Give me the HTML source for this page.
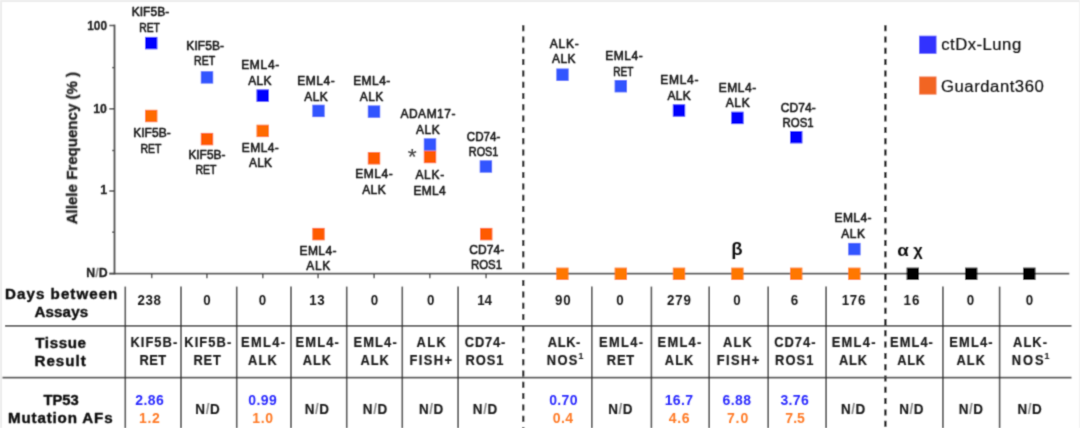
<!DOCTYPE html><html><head><meta charset="utf-8"><style>html,body{margin:0;padding:0;background:#fff;overflow:hidden}#l,#t{position:absolute;left:0;top:0}svg{display:block}</style></head><body><div id="l"><svg width="1080" height="428" viewBox="0 0 1080 428"><defs><filter id="lb" x="-0.05" y="-0.05" width="1.1" height="1.1"><feConvolveMatrix order="3" kernelMatrix="0.02768 0.11101 0.02768 0.11101 0.44521 0.11101 0.02768 0.11101 0.02768" divisor="1" edgeMode="none"/></filter></defs><g filter="url(#lb)"><rect x="0" y="0" width="1080" height="428" fill="#fff"/><line x1="114.5" y1="24.6" x2="114.5" y2="274.5" stroke="#4a4a4a" stroke-width="1.9"/>
<line x1="109.3" y1="273.6" x2="1069.3" y2="273.6" stroke="#4a4a4a" stroke-width="1.8"/>
<line x1="109.3" y1="25.5" x2="114.5" y2="25.5" stroke="#4a4a4a" stroke-width="1.6"/>
<line x1="109.3" y1="108.8" x2="114.5" y2="108.8" stroke="#4a4a4a" stroke-width="1.6"/>
<line x1="109.3" y1="191" x2="114.5" y2="191" stroke="#4a4a4a" stroke-width="1.6"/>
<line x1="109.3" y1="273.6" x2="114.5" y2="273.6" stroke="#4a4a4a" stroke-width="1.6"/>
<line x1="112" y1="67.6" x2="114.5" y2="67.6" stroke="#4a4a4a" stroke-width="1.4"/>
<line x1="112" y1="150.5" x2="114.5" y2="150.5" stroke="#4a4a4a" stroke-width="1.4"/>
<line x1="112" y1="232.2" x2="114.5" y2="232.2" stroke="#4a4a4a" stroke-width="1.4"/>
<line x1="151.7" y1="273.6" x2="151.7" y2="278.2" stroke="#4a4a4a" stroke-width="1.5"/>
<line x1="206.9" y1="273.6" x2="206.9" y2="278.2" stroke="#4a4a4a" stroke-width="1.5"/>
<line x1="262.8" y1="273.6" x2="262.8" y2="278.2" stroke="#4a4a4a" stroke-width="1.5"/>
<line x1="318.1" y1="273.6" x2="318.1" y2="278.2" stroke="#4a4a4a" stroke-width="1.5"/>
<line x1="374.1" y1="273.6" x2="374.1" y2="278.2" stroke="#4a4a4a" stroke-width="1.5"/>
<line x1="429.8" y1="273.6" x2="429.8" y2="278.2" stroke="#4a4a4a" stroke-width="1.5"/>
<line x1="486.1" y1="273.6" x2="486.1" y2="278.2" stroke="#4a4a4a" stroke-width="1.5"/>
<line x1="523.2" y1="25.2" x2="523.2" y2="272" stroke="#000" stroke-width="2.3" stroke-dasharray="6.0 5.3"/>
<line x1="523.2" y1="280.1" x2="523.2" y2="428" stroke="#000" stroke-width="2.3" stroke-dasharray="6.0 5.3"/>
<line x1="885.4" y1="25.2" x2="885.4" y2="428" stroke="#000" stroke-width="2.3" stroke-dasharray="6.0 5.3"/>
<line x1="5" y1="325.8" x2="1071.5" y2="325.8" stroke="#4a4a4a" stroke-width="1.8"/>
<line x1="2.5" y1="377.7" x2="1071.5" y2="377.7" stroke="#4a4a4a" stroke-width="1.8"/>
<line x1="125.3" y1="286.6" x2="125.3" y2="428" stroke="#3a3a3a" stroke-width="1.6"/>
<line x1="181" y1="286.6" x2="181" y2="428" stroke="#3a3a3a" stroke-width="1.6"/>
<line x1="236.7" y1="286.6" x2="236.7" y2="428" stroke="#3a3a3a" stroke-width="1.6"/>
<line x1="291" y1="286.6" x2="291" y2="428" stroke="#3a3a3a" stroke-width="1.6"/>
<line x1="346.7" y1="286.6" x2="346.7" y2="428" stroke="#3a3a3a" stroke-width="1.6"/>
<line x1="402.3" y1="286.6" x2="402.3" y2="428" stroke="#3a3a3a" stroke-width="1.6"/>
<line x1="458.1" y1="286.6" x2="458.1" y2="428" stroke="#3a3a3a" stroke-width="1.6"/>
<line x1="591.8" y1="286.6" x2="591.8" y2="428" stroke="#3a3a3a" stroke-width="1.6"/>
<line x1="651.4" y1="286.6" x2="651.4" y2="428" stroke="#3a3a3a" stroke-width="1.6"/>
<line x1="709.2" y1="286.6" x2="709.2" y2="428" stroke="#3a3a3a" stroke-width="1.6"/>
<line x1="768.2" y1="286.6" x2="768.2" y2="428" stroke="#3a3a3a" stroke-width="1.6"/>
<line x1="826.1" y1="286.6" x2="826.1" y2="428" stroke="#3a3a3a" stroke-width="1.6"/>
<line x1="942.9" y1="286.6" x2="942.9" y2="428" stroke="#3a3a3a" stroke-width="1.6"/>
<line x1="999.6" y1="286.6" x2="999.6" y2="428" stroke="#3a3a3a" stroke-width="1.6"/>
<rect x="0" y="0" width="1080" height="2" fill="#ececec"/>
<rect x="0" y="0" width="2" height="428" fill="#ececec"/>
<rect x="1079" y="0" width="1" height="428" fill="#f0f0f0"/><rect x="145.00" y="36.90" width="12.4" height="12.4" fill="#0000ff"/>
<rect x="145.00" y="109.80" width="12.4" height="12.4" fill="#ff6a00"/>
<rect x="200.80" y="71.20" width="12.4" height="12.4" fill="#3355ff"/>
<rect x="200.80" y="132.90" width="12.4" height="12.4" fill="#ff5a00"/>
<rect x="256.50" y="89.40" width="12.4" height="12.4" fill="#0000ff"/>
<rect x="256.50" y="124.70" width="12.4" height="12.4" fill="#ff6a00"/>
<rect x="312.30" y="104.70" width="12.4" height="12.4" fill="#3355ff"/>
<rect x="312.30" y="227.90" width="12.4" height="12.4" fill="#ff5a00"/>
<rect x="367.80" y="105.40" width="12.4" height="12.4" fill="#3355ff"/>
<rect x="367.80" y="152.10" width="12.4" height="12.4" fill="#ff5a00"/>
<rect x="423.80" y="138.30" width="12.4" height="12.4" fill="#3355ff"/>
<rect x="423.80" y="150.80" width="12.4" height="12.4" fill="#ff5a00"/>
<rect x="479.70" y="160.30" width="12.4" height="12.4" fill="#3355ff"/>
<rect x="480.00" y="227.90" width="12.4" height="12.4" fill="#ff5a00"/>
<rect x="556.30" y="68.50" width="12.4" height="12.4" fill="#3355ff"/>
<rect x="556.20" y="267.60" width="12.4" height="12.4" fill="#ff7700"/>
<rect x="614.60" y="80.00" width="12.4" height="12.4" fill="#3355ff"/>
<rect x="614.60" y="267.60" width="12.4" height="12.4" fill="#ff7700"/>
<rect x="672.80" y="104.30" width="12.4" height="12.4" fill="#0000ff"/>
<rect x="672.80" y="267.60" width="12.4" height="12.4" fill="#ff7700"/>
<rect x="731.20" y="111.70" width="12.4" height="12.4" fill="#0000ff"/>
<rect x="731.20" y="267.60" width="12.4" height="12.4" fill="#ff7700"/>
<rect x="790.00" y="131.00" width="12.4" height="12.4" fill="#0000ff"/>
<rect x="790.00" y="267.60" width="12.4" height="12.4" fill="#ff7700"/>
<rect x="848.20" y="242.90" width="12.4" height="12.4" fill="#3355ff"/>
<rect x="848.10" y="267.60" width="12.4" height="12.4" fill="#ff7700"/>
<rect x="906.60" y="267.60" width="12.4" height="12.4" fill="#000"/>
<rect x="965.00" y="267.60" width="12.4" height="12.4" fill="#000"/>
<rect x="1023.10" y="267.60" width="12.4" height="12.4" fill="#000"/>
<rect x="919.1" y="35.7" width="17.4" height="18.1" fill="#3333ff"/>
<rect x="919.1" y="76.5" width="17.4" height="18.1" fill="#f26522"/></g></svg></div><div id="t"><svg width="1080" height="428" viewBox="0 0 1080 428"><defs><filter id="tb" x="-0.05" y="-0.05" width="1.1" height="1.1"><feConvolveMatrix order="3" kernelMatrix="0.02768 0.11101 0.02768 0.11101 0.44521 0.11101 0.02768 0.11101 0.02768" divisor="1" edgeMode="none"/></filter></defs><g filter="url(#tb)"><text transform="translate(131.650,16.050) scale(1.0,1)" style="font-family:'Liberation Sans',sans-serif" font-size="12" font-weight="normal" fill="#151515" textLength="37.600" lengthAdjust="spacing" stroke="#151515" stroke-width="0.55" stroke-linejoin="round">KIF5B-</text>
<text transform="translate(139.200,31.650) scale(0.862619510299262,1)" style="font-family:'Liberation Sans',sans-serif" font-size="12" font-weight="normal" fill="#151515" stroke="#151515" stroke-width="0.55" stroke-linejoin="round">RET</text>
<text transform="translate(133.150,137.350) scale(1.0,1)" style="font-family:'Liberation Sans',sans-serif" font-size="12" font-weight="normal" fill="#151515" textLength="37.550" lengthAdjust="spacing" stroke="#151515" stroke-width="0.55" stroke-linejoin="round">KIF5B-</text>
<text transform="translate(140.500,152.950) scale(0.8776036866359438,1)" style="font-family:'Liberation Sans',sans-serif" font-size="12" font-weight="normal" fill="#151515" stroke="#151515" stroke-width="0.55" stroke-linejoin="round">RET</text>
<text transform="translate(186.350,49.650) scale(1.0,1)" style="font-family:'Liberation Sans',sans-serif" font-size="12" font-weight="normal" fill="#151515" textLength="37.650" lengthAdjust="spacing" stroke="#151515" stroke-width="0.55" stroke-linejoin="round">KIF5B-</text>
<text transform="translate(194.000,65.150) scale(0.8841189120809618,1)" style="font-family:'Liberation Sans',sans-serif" font-size="12" font-weight="normal" fill="#151515" stroke="#151515" stroke-width="0.55" stroke-linejoin="round">RET</text>
<text transform="translate(188.400,158.550) scale(0.9904128483703348,1)" style="font-family:'Liberation Sans',sans-serif" font-size="12" font-weight="normal" fill="#151515" stroke="#151515" stroke-width="0.55" stroke-linejoin="round">KIF5B-</text>
<text transform="translate(195.500,174.350) scale(0.8776036866359438,1)" style="font-family:'Liberation Sans',sans-serif" font-size="12" font-weight="normal" fill="#151515" stroke="#151515" stroke-width="0.55" stroke-linejoin="round">RET</text>
<text transform="translate(241.150,69.350) scale(1.0,1)" style="font-family:'Liberation Sans',sans-serif" font-size="12" font-weight="normal" fill="#151515" textLength="38.200" lengthAdjust="spacing" stroke="#151515" stroke-width="0.55" stroke-linejoin="round">EML4-</text>
<text transform="translate(248.250,85.150) scale(1.0,1)" style="font-family:'Liberation Sans',sans-serif" font-size="12" font-weight="normal" fill="#151515" textLength="23.350" lengthAdjust="spacing" stroke="#151515" stroke-width="0.55" stroke-linejoin="round">ALK</text>
<text transform="translate(241.850,152.150) scale(1.0,1)" style="font-family:'Liberation Sans',sans-serif" font-size="12" font-weight="normal" fill="#151515" textLength="37.000" lengthAdjust="spacing" stroke="#151515" stroke-width="0.55" stroke-linejoin="round">EML4-</text>
<text transform="translate(249.050,167.450) scale(1.0,1)" style="font-family:'Liberation Sans',sans-serif" font-size="12" font-weight="normal" fill="#151515" textLength="23.050" lengthAdjust="spacing" stroke="#151515" stroke-width="0.55" stroke-linejoin="round">ALK</text>
<text transform="translate(297.250,85.350) scale(1.0,1)" style="font-family:'Liberation Sans',sans-serif" font-size="12" font-weight="normal" fill="#151515" textLength="37.550" lengthAdjust="spacing" stroke="#151515" stroke-width="0.55" stroke-linejoin="round">EML4-</text>
<text transform="translate(304.250,100.950) scale(1.0,1)" style="font-family:'Liberation Sans',sans-serif" font-size="12" font-weight="normal" fill="#151515" textLength="23.450" lengthAdjust="spacing" stroke="#151515" stroke-width="0.55" stroke-linejoin="round">ALK</text>
<text transform="translate(299.450,254.750) scale(1.0,1)" style="font-family:'Liberation Sans',sans-serif" font-size="12" font-weight="normal" fill="#151515" textLength="37.100" lengthAdjust="spacing" stroke="#151515" stroke-width="0.55" stroke-linejoin="round">EML4-</text>
<text transform="translate(306.250,270.450) scale(1.0,1)" style="font-family:'Liberation Sans',sans-serif" font-size="12" font-weight="normal" fill="#151515" textLength="24.000" lengthAdjust="spacing" stroke="#151515" stroke-width="0.55" stroke-linejoin="round">ALK</text>
<text transform="translate(353.150,85.350) scale(1.0,1)" style="font-family:'Liberation Sans',sans-serif" font-size="12" font-weight="normal" fill="#151515" textLength="37.100" lengthAdjust="spacing" stroke="#151515" stroke-width="0.55" stroke-linejoin="round">EML4-</text>
<text transform="translate(359.750,100.950) scale(1.0,1)" style="font-family:'Liberation Sans',sans-serif" font-size="12" font-weight="normal" fill="#151515" textLength="23.500" lengthAdjust="spacing" stroke="#151515" stroke-width="0.55" stroke-linejoin="round">ALK</text>
<text transform="translate(355.250,178.050) scale(1.0,1)" style="font-family:'Liberation Sans',sans-serif" font-size="12" font-weight="normal" fill="#151515" textLength="37.600" lengthAdjust="spacing" stroke="#151515" stroke-width="0.55" stroke-linejoin="round">EML4-</text>
<text transform="translate(362.150,193.650) scale(1.0,1)" style="font-family:'Liberation Sans',sans-serif" font-size="12" font-weight="normal" fill="#151515" textLength="23.550" lengthAdjust="spacing" stroke="#151515" stroke-width="0.55" stroke-linejoin="round">ALK</text>
<text transform="translate(400.450,118.450) scale(1.0,1)" style="font-family:'Liberation Sans',sans-serif" font-size="12" font-weight="normal" fill="#151515" textLength="55.050" lengthAdjust="spacing" stroke="#151515" stroke-width="0.55" stroke-linejoin="round">ADAM17-</text>
<text transform="translate(415.950,134.350) scale(1.0,1)" style="font-family:'Liberation Sans',sans-serif" font-size="12" font-weight="normal" fill="#151515" textLength="23.900" lengthAdjust="spacing" stroke="#151515" stroke-width="0.55" stroke-linejoin="round">ALK</text>
<text transform="translate(415.450,179.050) scale(1.0,1)" style="font-family:'Liberation Sans',sans-serif" font-size="12" font-weight="normal" fill="#151515" textLength="28.700" lengthAdjust="spacing" stroke="#151515" stroke-width="0.55" stroke-linejoin="round">ALK-</text>
<text transform="translate(413.550,194.850) scale(1.0,1)" style="font-family:'Liberation Sans',sans-serif" font-size="12" font-weight="normal" fill="#151515" textLength="32.200" lengthAdjust="spacing" stroke="#151515" stroke-width="0.55" stroke-linejoin="round">EML4</text>
<text transform="translate(466.850,141.250) scale(0.9649835627124297,1)" style="font-family:'Liberation Sans',sans-serif" font-size="12" font-weight="normal" fill="#151515" stroke="#151515" stroke-width="0.55" stroke-linejoin="round">CD74-</text>
<text transform="translate(468.800,156.350) scale(0.9055791103035198,1)" style="font-family:'Liberation Sans',sans-serif" font-size="12" font-weight="normal" fill="#151515" stroke="#151515" stroke-width="0.55" stroke-linejoin="round">ROS1</text>
<text transform="translate(469.250,254.050) scale(1.0,1)" style="font-family:'Liberation Sans',sans-serif" font-size="12" font-weight="normal" fill="#151515" textLength="35.000" lengthAdjust="spacing" stroke="#151515" stroke-width="0.55" stroke-linejoin="round">CD74-</text>
<text transform="translate(470.900,269.150) scale(0.9528199219000063,1)" style="font-family:'Liberation Sans',sans-serif" font-size="12" font-weight="normal" fill="#151515" stroke="#151515" stroke-width="0.55" stroke-linejoin="round">ROS1</text>
<text transform="translate(549.750,47.750) scale(1.0,1)" style="font-family:'Liberation Sans',sans-serif" font-size="12" font-weight="normal" fill="#151515" textLength="29.000" lengthAdjust="spacing" stroke="#151515" stroke-width="0.55" stroke-linejoin="round">ALK-</text>
<text transform="translate(552.050,63.350) scale(1.0,1)" style="font-family:'Liberation Sans',sans-serif" font-size="12" font-weight="normal" fill="#151515" textLength="23.350" lengthAdjust="spacing" stroke="#151515" stroke-width="0.55" stroke-linejoin="round">ALK</text>
<text transform="translate(605.250,59.850) scale(1.0,1)" style="font-family:'Liberation Sans',sans-serif" font-size="12" font-weight="normal" fill="#151515" textLength="37.600" lengthAdjust="spacing" stroke="#151515" stroke-width="0.55" stroke-linejoin="round">EML4-</text>
<text transform="translate(613.200,75.550) scale(0.8430967741935446,1)" style="font-family:'Liberation Sans',sans-serif" font-size="12" font-weight="normal" fill="#151515" stroke="#151515" stroke-width="0.55" stroke-linejoin="round">RET</text>
<text transform="translate(660.350,84.250) scale(1.0,1)" style="font-family:'Liberation Sans',sans-serif" font-size="12" font-weight="normal" fill="#151515" textLength="38.050" lengthAdjust="spacing" stroke="#151515" stroke-width="0.55" stroke-linejoin="round">EML4-</text>
<text transform="translate(667.450,99.850) scale(1.0,1)" style="font-family:'Liberation Sans',sans-serif" font-size="12" font-weight="normal" fill="#151515" textLength="23.350" lengthAdjust="spacing" stroke="#151515" stroke-width="0.55" stroke-linejoin="round">ALK</text>
<text transform="translate(718.750,91.650) scale(1.0,1)" style="font-family:'Liberation Sans',sans-serif" font-size="12" font-weight="normal" fill="#151515" textLength="37.500" lengthAdjust="spacing" stroke="#151515" stroke-width="0.55" stroke-linejoin="round">EML4-</text>
<text transform="translate(725.750,107.150) scale(1.0,1)" style="font-family:'Liberation Sans',sans-serif" font-size="12" font-weight="normal" fill="#151515" textLength="23.900" lengthAdjust="spacing" stroke="#151515" stroke-width="0.55" stroke-linejoin="round">ALK</text>
<text transform="translate(780.650,111.750) scale(1.0,1)" style="font-family:'Liberation Sans',sans-serif" font-size="12" font-weight="normal" fill="#151515" textLength="35.100" lengthAdjust="spacing" stroke="#151515" stroke-width="0.55" stroke-linejoin="round">CD74-</text>
<text transform="translate(782.500,127.150) scale(0.9528199219000063,1)" style="font-family:'Liberation Sans',sans-serif" font-size="12" font-weight="normal" fill="#151515" stroke="#151515" stroke-width="0.55" stroke-linejoin="round">ROS1</text>
<text transform="translate(834.450,222.450) scale(1.0,1)" style="font-family:'Liberation Sans',sans-serif" font-size="12" font-weight="normal" fill="#151515" textLength="37.100" lengthAdjust="spacing" stroke="#151515" stroke-width="0.55" stroke-linejoin="round">EML4-</text>
<text transform="translate(841.150,238.250) scale(1.0,1)" style="font-family:'Liberation Sans',sans-serif" font-size="12" font-weight="normal" fill="#151515" textLength="23.850" lengthAdjust="spacing" stroke="#151515" stroke-width="0.55" stroke-linejoin="round">ALK</text>
<text transform="translate(137.500,305.400) scale(0.92,1)" style="font-family:'Liberation Sans',sans-serif" font-size="14.5" font-weight="bold" fill="#1a1a1a" textLength="25.500" lengthAdjust="spacing">238</text>
<text transform="translate(203.300,305.400) scale(0.92,1)" style="font-family:'Liberation Sans',sans-serif" font-size="14.5" font-weight="bold" fill="#1a1a1a">0</text>
<text transform="translate(258.700,305.400) scale(0.92,1)" style="font-family:'Liberation Sans',sans-serif" font-size="14.5" font-weight="bold" fill="#1a1a1a">0</text>
<text transform="translate(309.250,305.400) scale(0.92,1)" style="font-family:'Liberation Sans',sans-serif" font-size="14.5" font-weight="bold" fill="#1a1a1a" textLength="16.850" lengthAdjust="spacing">13</text>
<text transform="translate(370.800,305.400) scale(0.92,1)" style="font-family:'Liberation Sans',sans-serif" font-size="14.5" font-weight="bold" fill="#1a1a1a">0</text>
<text transform="translate(427.000,305.400) scale(0.92,1)" style="font-family:'Liberation Sans',sans-serif" font-size="14.5" font-weight="bold" fill="#1a1a1a">0</text>
<text transform="translate(477.250,305.400) scale(0.92,1)" style="font-family:'Liberation Sans',sans-serif" font-size="14.5" font-weight="bold" fill="#1a1a1a" textLength="16.000" lengthAdjust="spacing">14</text>
<text transform="translate(555.000,305.400) scale(0.92,1)" style="font-family:'Liberation Sans',sans-serif" font-size="14.5" font-weight="bold" fill="#1a1a1a" textLength="17.150" lengthAdjust="spacing">90</text>
<text transform="translate(616.200,305.400) scale(0.92,1)" style="font-family:'Liberation Sans',sans-serif" font-size="14.5" font-weight="bold" fill="#1a1a1a">0</text>
<text transform="translate(667.000,305.400) scale(0.92,1)" style="font-family:'Liberation Sans',sans-serif" font-size="14.5" font-weight="bold" fill="#1a1a1a" textLength="25.900" lengthAdjust="spacing">279</text>
<text transform="translate(733.300,305.400) scale(0.92,1)" style="font-family:'Liberation Sans',sans-serif" font-size="14.5" font-weight="bold" fill="#1a1a1a">0</text>
<text transform="translate(790.800,305.400) scale(0.92,1)" style="font-family:'Liberation Sans',sans-serif" font-size="14.5" font-weight="bold" fill="#1a1a1a">6</text>
<text transform="translate(841.750,305.400) scale(0.92,1)" style="font-family:'Liberation Sans',sans-serif" font-size="14.5" font-weight="bold" fill="#1a1a1a" textLength="25.600" lengthAdjust="spacing">176</text>
<text transform="translate(903.450,305.400) scale(0.92,1)" style="font-family:'Liberation Sans',sans-serif" font-size="14.5" font-weight="bold" fill="#1a1a1a" textLength="17.250" lengthAdjust="spacing">16</text>
<text transform="translate(966.700,305.400) scale(0.92,1)" style="font-family:'Liberation Sans',sans-serif" font-size="14.5" font-weight="bold" fill="#1a1a1a">0</text>
<text transform="translate(1025.800,305.400) scale(0.92,1)" style="font-family:'Liberation Sans',sans-serif" font-size="14.5" font-weight="bold" fill="#1a1a1a">0</text>
<text transform="translate(130.550,346.650) scale(0.92,1)" style="font-family:'Liberation Sans',sans-serif" font-size="14" font-weight="bold" fill="#1a1a1a" textLength="50.700" lengthAdjust="spacing" stroke="#1a1a1a" stroke-width="0.2" stroke-linejoin="round">KIF5B-</text>
<text transform="translate(139.550,364.900) scale(0.92,1)" style="font-family:'Liberation Sans',sans-serif" font-size="14" font-weight="bold" fill="#1a1a1a" textLength="29.000" lengthAdjust="spacing" stroke="#1a1a1a" stroke-width="0.2" stroke-linejoin="round">RET</text>
<text transform="translate(184.250,346.650) scale(0.92,1)" style="font-family:'Liberation Sans',sans-serif" font-size="14" font-weight="bold" fill="#1a1a1a" textLength="51.150" lengthAdjust="spacing" stroke="#1a1a1a" stroke-width="0.2" stroke-linejoin="round">KIF5B-</text>
<text transform="translate(193.450,364.900) scale(0.92,1)" style="font-family:'Liberation Sans',sans-serif" font-size="14" font-weight="bold" fill="#1a1a1a" textLength="29.800" lengthAdjust="spacing" stroke="#1a1a1a" stroke-width="0.2" stroke-linejoin="round">RET</text>
<text transform="translate(240.950,346.900) scale(0.92,1)" style="font-family:'Liberation Sans',sans-serif" font-size="14" font-weight="bold" fill="#1a1a1a" textLength="48.000" lengthAdjust="spacing" stroke="#1a1a1a" stroke-width="0.2" stroke-linejoin="round">EML4-</text>
<text transform="translate(248.050,364.900) scale(0.92,1)" style="font-family:'Liberation Sans',sans-serif" font-size="14" font-weight="bold" fill="#1a1a1a" textLength="31.200" lengthAdjust="spacing" stroke="#1a1a1a" stroke-width="0.2" stroke-linejoin="round">ALK</text>
<text transform="translate(295.550,346.900) scale(0.92,1)" style="font-family:'Liberation Sans',sans-serif" font-size="14" font-weight="bold" fill="#1a1a1a" textLength="47.000" lengthAdjust="spacing" stroke="#1a1a1a" stroke-width="0.2" stroke-linejoin="round">EML4-</text>
<text transform="translate(302.750,364.900) scale(0.92,1)" style="font-family:'Liberation Sans',sans-serif" font-size="14" font-weight="bold" fill="#1a1a1a" textLength="30.650" lengthAdjust="spacing" stroke="#1a1a1a" stroke-width="0.2" stroke-linejoin="round">ALK</text>
<text transform="translate(353.450,346.900) scale(0.92,1)" style="font-family:'Liberation Sans',sans-serif" font-size="14" font-weight="bold" fill="#1a1a1a" textLength="47.050" lengthAdjust="spacing" stroke="#1a1a1a" stroke-width="0.2" stroke-linejoin="round">EML4-</text>
<text transform="translate(360.550,364.900) scale(0.92,1)" style="font-family:'Liberation Sans',sans-serif" font-size="14" font-weight="bold" fill="#1a1a1a" textLength="30.750" lengthAdjust="spacing" stroke="#1a1a1a" stroke-width="0.2" stroke-linejoin="round">ALK</text>
<text transform="translate(416.450,346.900) scale(0.92,1)" style="font-family:'Liberation Sans',sans-serif" font-size="14" font-weight="bold" fill="#1a1a1a" textLength="32.050" lengthAdjust="spacing" stroke="#1a1a1a" stroke-width="0.2" stroke-linejoin="round">ALK</text>
<text transform="translate(409.550,364.650) scale(0.92,1)" style="font-family:'Liberation Sans',sans-serif" font-size="14" font-weight="bold" fill="#1a1a1a" textLength="46.200" lengthAdjust="spacing" stroke="#1a1a1a" stroke-width="0.2" stroke-linejoin="round">FISH+</text>
<text transform="translate(464.800,346.650) scale(0.92,1)" style="font-family:'Liberation Sans',sans-serif" font-size="14" font-weight="bold" fill="#1a1a1a" textLength="44.100" lengthAdjust="spacing" stroke="#1a1a1a" stroke-width="0.2" stroke-linejoin="round">CD74-</text>
<text transform="translate(465.550,364.650) scale(0.92,1)" style="font-family:'Liberation Sans',sans-serif" font-size="14" font-weight="bold" fill="#1a1a1a" textLength="41.250" lengthAdjust="spacing" stroke="#1a1a1a" stroke-width="0.2" stroke-linejoin="round">ROS1</text>
<text transform="translate(547.750,346.900) scale(0.92,1)" style="font-family:'Liberation Sans',sans-serif" font-size="14" font-weight="bold" fill="#1a1a1a" textLength="35.500" lengthAdjust="spacing" stroke="#1a1a1a" stroke-width="0.2" stroke-linejoin="round">ALK-</text>
<text transform="translate(546.750,364.650) scale(0.92,1)" style="font-family:'Liberation Sans',sans-serif" font-size="14" font-weight="bold" fill="#1a1a1a" textLength="33.250" lengthAdjust="spacing" stroke="#1a1a1a" stroke-width="0.2" stroke-linejoin="round">NOS</text>
<text transform="translate(578.300,359.300) scale(1.0,1)" style="font-family:'Liberation Sans',sans-serif" font-size="9.5" font-weight="bold" fill="#222">1</text>
<text transform="translate(598.950,346.900) scale(0.92,1)" style="font-family:'Liberation Sans',sans-serif" font-size="14" font-weight="bold" fill="#1a1a1a" textLength="47.900" lengthAdjust="spacing" stroke="#1a1a1a" stroke-width="0.2" stroke-linejoin="round">EML4-</text>
<text transform="translate(606.750,364.900) scale(0.92,1)" style="font-family:'Liberation Sans',sans-serif" font-size="14" font-weight="bold" fill="#1a1a1a" textLength="29.850" lengthAdjust="spacing" stroke="#1a1a1a" stroke-width="0.2" stroke-linejoin="round">RET</text>
<text transform="translate(657.550,346.900) scale(0.92,1)" style="font-family:'Liberation Sans',sans-serif" font-size="14" font-weight="bold" fill="#1a1a1a" textLength="47.500" lengthAdjust="spacing" stroke="#1a1a1a" stroke-width="0.2" stroke-linejoin="round">EML4-</text>
<text transform="translate(664.750,364.900) scale(0.92,1)" style="font-family:'Liberation Sans',sans-serif" font-size="14" font-weight="bold" fill="#1a1a1a" textLength="31.150" lengthAdjust="spacing" stroke="#1a1a1a" stroke-width="0.2" stroke-linejoin="round">ALK</text>
<text transform="translate(723.050,346.900) scale(0.92,1)" style="font-family:'Liberation Sans',sans-serif" font-size="14" font-weight="bold" fill="#1a1a1a" textLength="31.200" lengthAdjust="spacing" stroke="#1a1a1a" stroke-width="0.2" stroke-linejoin="round">ALK</text>
<text transform="translate(716.750,364.650) scale(0.92,1)" style="font-family:'Liberation Sans',sans-serif" font-size="14" font-weight="bold" fill="#1a1a1a" textLength="46.150" lengthAdjust="spacing" stroke="#1a1a1a" stroke-width="0.2" stroke-linejoin="round">FISH+</text>
<text transform="translate(774.200,346.650) scale(0.92,1)" style="font-family:'Liberation Sans',sans-serif" font-size="14" font-weight="bold" fill="#1a1a1a" textLength="44.900" lengthAdjust="spacing" stroke="#1a1a1a" stroke-width="0.2" stroke-linejoin="round">CD74-</text>
<text transform="translate(775.050,364.650) scale(0.92,1)" style="font-family:'Liberation Sans',sans-serif" font-size="14" font-weight="bold" fill="#1a1a1a" textLength="41.750" lengthAdjust="spacing" stroke="#1a1a1a" stroke-width="0.2" stroke-linejoin="round">ROS1</text>
<text transform="translate(831.750,346.900) scale(0.92,1)" style="font-family:'Liberation Sans',sans-serif" font-size="14" font-weight="bold" fill="#1a1a1a" textLength="47.500" lengthAdjust="spacing" stroke="#1a1a1a" stroke-width="0.2" stroke-linejoin="round">EML4-</text>
<text transform="translate(838.950,364.900) scale(0.92,1)" style="font-family:'Liberation Sans',sans-serif" font-size="14" font-weight="bold" fill="#1a1a1a" textLength="30.650" lengthAdjust="spacing" stroke="#1a1a1a" stroke-width="0.2" stroke-linejoin="round">ALK</text>
<text transform="translate(890.050,346.900) scale(0.92,1)" style="font-family:'Liberation Sans',sans-serif" font-size="14" font-weight="bold" fill="#1a1a1a" textLength="46.600" lengthAdjust="spacing" stroke="#1a1a1a" stroke-width="0.2" stroke-linejoin="round">EML4-</text>
<text transform="translate(897.250,364.900) scale(0.92,1)" style="font-family:'Liberation Sans',sans-serif" font-size="14" font-weight="bold" fill="#1a1a1a" textLength="30.250" lengthAdjust="spacing" stroke="#1a1a1a" stroke-width="0.2" stroke-linejoin="round">ALK</text>
<text transform="translate(949.250,346.900) scale(0.92,1)" style="font-family:'Liberation Sans',sans-serif" font-size="14" font-weight="bold" fill="#1a1a1a" textLength="47.100" lengthAdjust="spacing" stroke="#1a1a1a" stroke-width="0.2" stroke-linejoin="round">EML4-</text>
<text transform="translate(956.450,364.900) scale(0.92,1)" style="font-family:'Liberation Sans',sans-serif" font-size="14" font-weight="bold" fill="#1a1a1a" textLength="31.150" lengthAdjust="spacing" stroke="#1a1a1a" stroke-width="0.2" stroke-linejoin="round">ALK</text>
<text transform="translate(1013.050,346.900) scale(0.92,1)" style="font-family:'Liberation Sans',sans-serif" font-size="14" font-weight="bold" fill="#1a1a1a" textLength="36.950" lengthAdjust="spacing" stroke="#1a1a1a" stroke-width="0.2" stroke-linejoin="round">ALK-</text>
<text transform="translate(1011.750,364.650) scale(0.92,1)" style="font-family:'Liberation Sans',sans-serif" font-size="14" font-weight="bold" fill="#1a1a1a" textLength="34.500" lengthAdjust="spacing" stroke="#1a1a1a" stroke-width="0.2" stroke-linejoin="round">NOS</text>
<text transform="translate(1044.300,359.300) scale(1.0,1)" style="font-family:'Liberation Sans',sans-serif" font-size="9.5" font-weight="bold" fill="#222">1</text>
<text transform="translate(135.300,404.600) scale(1.0,1)" style="font-family:'Liberation Sans',sans-serif" font-size="14" font-weight="bold" fill="#2a2aff" textLength="28.500" lengthAdjust="spacing">2.86</text>
<text transform="translate(139.000,422.800) scale(1.0,1)" style="font-family:'Liberation Sans',sans-serif" font-size="14" font-weight="bold" fill="#ff7a26" textLength="20.850" lengthAdjust="spacing">1.2</text>
<text transform="translate(248.200,404.600) scale(1.0,1)" style="font-family:'Liberation Sans',sans-serif" font-size="14" font-weight="bold" fill="#2a2aff" textLength="28.550" lengthAdjust="spacing">0.99</text>
<text transform="translate(252.300,422.800) scale(1.0,1)" style="font-family:'Liberation Sans',sans-serif" font-size="14" font-weight="bold" fill="#ff7a26" textLength="20.850" lengthAdjust="spacing">1.0</text>
<text transform="translate(549.200,404.600) scale(1.0,1)" style="font-family:'Liberation Sans',sans-serif" font-size="14" font-weight="bold" fill="#2a2aff" textLength="28.250" lengthAdjust="spacing">0.70</text>
<text transform="translate(552.800,422.800) scale(1.0,1)" style="font-family:'Liberation Sans',sans-serif" font-size="14" font-weight="bold" fill="#ff7a26" textLength="20.350" lengthAdjust="spacing">0.4</text>
<text transform="translate(664.700,404.600) scale(1.0,1)" style="font-family:'Liberation Sans',sans-serif" font-size="14" font-weight="bold" fill="#2a2aff" textLength="28.350" lengthAdjust="spacing">16.7</text>
<text transform="translate(668.750,422.800) scale(1.0,1)" style="font-family:'Liberation Sans',sans-serif" font-size="14" font-weight="bold" fill="#ff7a26" textLength="20.750" lengthAdjust="spacing">4.6</text>
<text transform="translate(722.500,404.600) scale(1.0,1)" style="font-family:'Liberation Sans',sans-serif" font-size="14" font-weight="bold" fill="#2a2aff" textLength="28.600" lengthAdjust="spacing">6.88</text>
<text transform="translate(726.900,422.800) scale(1.0,1)" style="font-family:'Liberation Sans',sans-serif" font-size="14" font-weight="bold" fill="#ff7a26" textLength="21.350" lengthAdjust="spacing">7.0</text>
<text transform="translate(780.400,404.600) scale(1.0,1)" style="font-family:'Liberation Sans',sans-serif" font-size="14" font-weight="bold" fill="#2a2aff" textLength="28.400" lengthAdjust="spacing">3.76</text>
<text transform="translate(785.300,422.800) scale(1.0,1)" style="font-family:'Liberation Sans',sans-serif" font-size="14" font-weight="bold" fill="#ff7a26" textLength="19.550" lengthAdjust="spacing">7.5</text>
<text transform="translate(195.350,413.700) scale(0.96,1)" style="font-family:'Liberation Sans',sans-serif" font-size="14" font-weight="bold" fill="#1a1a1a" textLength="25.350" lengthAdjust="spacing" stroke="#1a1a1a" stroke-width="0.15" stroke-linejoin="round">N<tspan fill="#8a8a8a" stroke="#8a8a8a">/</tspan>D</text>
<text transform="translate(304.650,413.700) scale(0.96,1)" style="font-family:'Liberation Sans',sans-serif" font-size="14" font-weight="bold" fill="#1a1a1a" textLength="25.350" lengthAdjust="spacing" stroke="#1a1a1a" stroke-width="0.15" stroke-linejoin="round">N<tspan fill="#8a8a8a" stroke="#8a8a8a">/</tspan>D</text>
<text transform="translate(362.850,413.700) scale(0.96,1)" style="font-family:'Liberation Sans',sans-serif" font-size="14" font-weight="bold" fill="#1a1a1a" textLength="25.350" lengthAdjust="spacing" stroke="#1a1a1a" stroke-width="0.15" stroke-linejoin="round">N<tspan fill="#8a8a8a" stroke="#8a8a8a">/</tspan>D</text>
<text transform="translate(418.950,413.700) scale(0.96,1)" style="font-family:'Liberation Sans',sans-serif" font-size="14" font-weight="bold" fill="#1a1a1a" textLength="25.350" lengthAdjust="spacing" stroke="#1a1a1a" stroke-width="0.15" stroke-linejoin="round">N<tspan fill="#8a8a8a" stroke="#8a8a8a">/</tspan>D</text>
<text transform="translate(472.850,413.700) scale(0.96,1)" style="font-family:'Liberation Sans',sans-serif" font-size="14" font-weight="bold" fill="#1a1a1a" textLength="25.350" lengthAdjust="spacing" stroke="#1a1a1a" stroke-width="0.15" stroke-linejoin="round">N<tspan fill="#8a8a8a" stroke="#8a8a8a">/</tspan>D</text>
<text transform="translate(608.250,413.700) scale(0.96,1)" style="font-family:'Liberation Sans',sans-serif" font-size="14" font-weight="bold" fill="#1a1a1a" textLength="25.350" lengthAdjust="spacing" stroke="#1a1a1a" stroke-width="0.15" stroke-linejoin="round">N<tspan fill="#8a8a8a" stroke="#8a8a8a">/</tspan>D</text>
<text transform="translate(840.950,413.700) scale(0.96,1)" style="font-family:'Liberation Sans',sans-serif" font-size="14" font-weight="bold" fill="#1a1a1a" textLength="25.350" lengthAdjust="spacing" stroke="#1a1a1a" stroke-width="0.15" stroke-linejoin="round">N<tspan fill="#8a8a8a" stroke="#8a8a8a">/</tspan>D</text>
<text transform="translate(899.150,413.700) scale(0.96,1)" style="font-family:'Liberation Sans',sans-serif" font-size="14" font-weight="bold" fill="#1a1a1a" textLength="25.350" lengthAdjust="spacing" stroke="#1a1a1a" stroke-width="0.15" stroke-linejoin="round">N<tspan fill="#8a8a8a" stroke="#8a8a8a">/</tspan>D</text>
<text transform="translate(958.750,413.700) scale(0.96,1)" style="font-family:'Liberation Sans',sans-serif" font-size="14" font-weight="bold" fill="#1a1a1a" textLength="25.350" lengthAdjust="spacing" stroke="#1a1a1a" stroke-width="0.15" stroke-linejoin="round">N<tspan fill="#8a8a8a" stroke="#8a8a8a">/</tspan>D</text>
<text transform="translate(1017.450,413.700) scale(0.96,1)" style="font-family:'Liberation Sans',sans-serif" font-size="14" font-weight="bold" fill="#1a1a1a" textLength="25.350" lengthAdjust="spacing" stroke="#1a1a1a" stroke-width="0.15" stroke-linejoin="round">N<tspan fill="#8a8a8a" stroke="#8a8a8a">/</tspan>D</text>
<text transform="translate(5.050,299.100) scale(1.08,1)" style="font-family:'Liberation Sans',sans-serif" font-size="14" font-weight="bold" fill="#111" textLength="104.000" lengthAdjust="spacing" stroke="#111" stroke-width="0.4" stroke-linejoin="round">Days between</text>
<text transform="translate(34.450,317.300) scale(1.08,1)" style="font-family:'Liberation Sans',sans-serif" font-size="14" font-weight="bold" fill="#111" textLength="49.700" lengthAdjust="spacing" stroke="#111" stroke-width="0.4" stroke-linejoin="round">Assays</text>
<text transform="translate(35.300,347.650) scale(1.08,1)" style="font-family:'Liberation Sans',sans-serif" font-size="14" font-weight="bold" fill="#111" textLength="46.900" lengthAdjust="spacing" stroke="#111" stroke-width="0.4" stroke-linejoin="round">Tissue</text>
<text transform="translate(34.550,365.650) scale(1.08,1)" style="font-family:'Liberation Sans',sans-serif" font-size="14" font-weight="bold" fill="#111" textLength="47.400" lengthAdjust="spacing" stroke="#111" stroke-width="0.4" stroke-linejoin="round">Result</text>
<text transform="translate(43.400,404.650) scale(1.0558514506769827,1)" style="font-family:'Liberation Sans',sans-serif" font-size="14" font-weight="bold" fill="#111" stroke="#111" stroke-width="0.4" stroke-linejoin="round">TP53</text>
<text transform="translate(7.950,422.750) scale(1.08,1)" style="font-family:'Liberation Sans',sans-serif" font-size="14" font-weight="bold" fill="#111" textLength="96.900" lengthAdjust="spacing" stroke="#111" stroke-width="0.4" stroke-linejoin="round">Mutation AFs</text>
<text transform="translate(87.200,29.700) scale(0.9641295546558696,1)" style="font-family:'Liberation Sans',sans-serif" font-size="12.3" font-weight="bold" fill="#222" stroke="#222" stroke-width="0.3" stroke-linejoin="round">100</text>
<text transform="translate(93.350,112.500) scale(1.0,1)" style="font-family:'Liberation Sans',sans-serif" font-size="12.3" font-weight="bold" fill="#222" textLength="13.400" lengthAdjust="spacing" stroke="#222" stroke-width="0.3" stroke-linejoin="round">10</text>
<text transform="translate(100.250,194.300) scale(1.0,1)" style="font-family:'Liberation Sans',sans-serif" font-size="12.3" font-weight="bold" fill="#222" stroke="#222" stroke-width="0.3" stroke-linejoin="round">1</text>
<text transform="translate(86.250,276.700) scale(1.0,1)" style="font-family:'Liberation Sans',sans-serif" font-size="12.3" font-weight="bold" fill="#222" textLength="21.400" lengthAdjust="spacing" stroke="#222" stroke-width="0.3" stroke-linejoin="round">N<tspan fill="#8a8a8a" stroke="#8a8a8a">/</tspan>D</text>
<text transform="translate(941.200,49.750) scale(1.07,1)" style="font-family:'Liberation Sans',sans-serif" font-size="15.6" font-weight="normal" fill="#111" textLength="74.750" lengthAdjust="spacing" stroke="#111" stroke-width="0.2" stroke-linejoin="round">ctDx-Lung</text>
<text transform="translate(941.050,92.050) scale(1.07,1)" style="font-family:'Liberation Sans',sans-serif" font-size="15.6" font-weight="normal" fill="#111" textLength="96.000" lengthAdjust="spacing" stroke="#111" stroke-width="0.2" stroke-linejoin="round">Guardant360</text>
<text transform="translate(731.350,255.250) scale(1.029874339828806,1)" style="font-family:'Liberation Sans',sans-serif" font-size="18.062" font-weight="bold" fill="#111">β</text>
<text transform="translate(897.150,256.400) scale(1.0811051296881338,1)" style="font-family:'Liberation Sans',sans-serif" font-size="17.38" font-weight="bold" fill="#111">α</text>
<text transform="translate(913.350,256.400) scale(0.9532253988881766,1)" style="font-family:'Liberation Sans',sans-serif" font-size="17.273" font-weight="bold" fill="#111">χ</text>
<text transform="translate(407.650,164.350) scale(1.0574312565262924,1)" style="font-family:'Liberation Sans',sans-serif" font-size="21.739" font-weight="normal" fill="#444" stroke="#444" stroke-width="0.15" stroke-linejoin="round">*</text>
<text transform="translate(77.350,224.250) scale(1.0216163359217725,1) rotate(-90)" style="font-family:'Liberation Sans',sans-serif" font-size="15" font-weight="bold" fill="#1a1a1a" textLength="152.300" lengthAdjust="spacing" stroke="#1a1a1a" stroke-width="0.3" stroke-linejoin="round">Allele Frequency (% )</text></g></svg></div></body></html>
